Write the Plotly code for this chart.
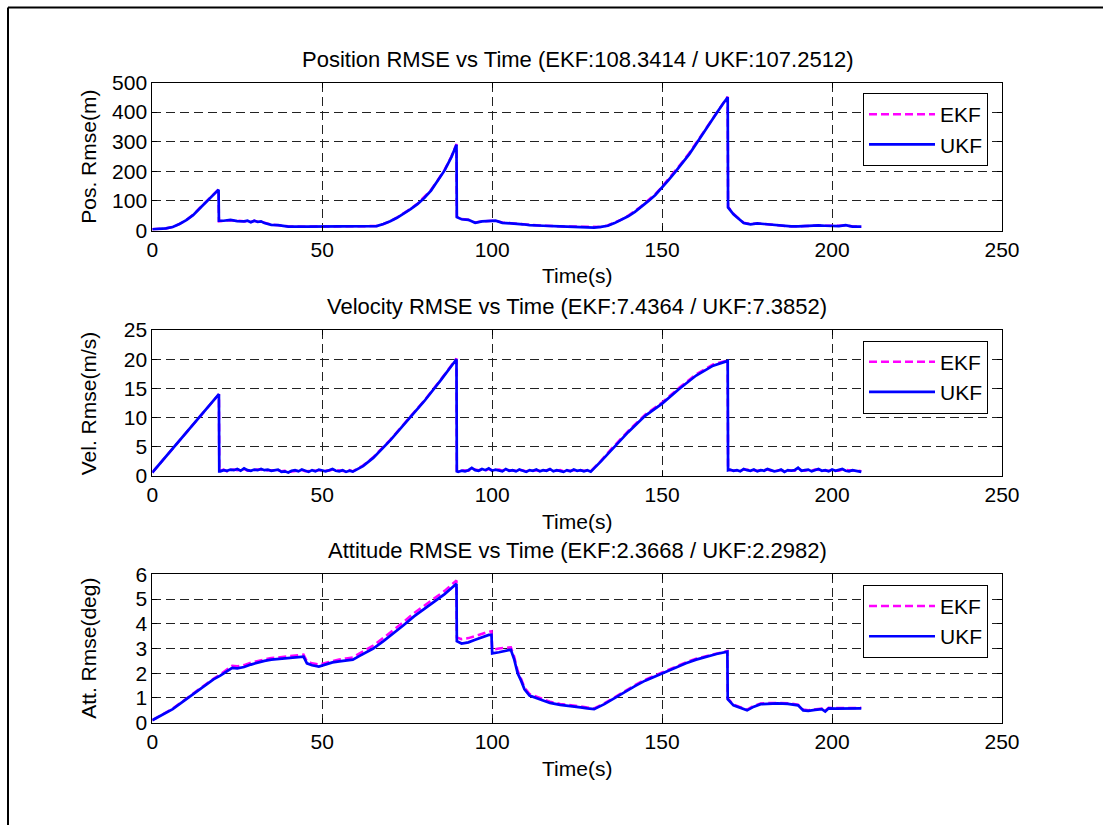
import plotly.graph_objects as go

# ---------------- data ----------------
T_POS = [0, 2, 4, 6, 8, 10, 12, 14, 16, 18, 19.5, 19.6, 21, 23, 25, 27, 28, 29, 30, 31,
         32, 33, 35, 37, 40, 45, 50, 55, 60, 65, 66, 68, 70, 72, 74, 76, 78, 80, 82, 84,
         86, 88, 89.5, 89.6, 91, 93, 95, 97, 99, 101, 103, 105, 107, 109, 111, 113, 115, 120, 125, 128,
         130, 132, 134, 136, 138, 140, 142, 144, 146, 148, 150, 152, 154, 156, 158, 160, 162, 164, 166, 168,
         169.3, 169.4, 170, 171, 172, 173, 174, 176, 178, 180, 182, 184, 186, 188, 190, 192, 194, 196, 198, 200,
         202, 204, 206, 208.6]
UKF_POS = [4, 5, 7, 12, 22, 35, 52, 75, 98, 120, 138, 33, 33, 36, 32, 31, 33, 28, 33, 29,
           31, 25, 19, 18, 13, 13, 13, 13, 13, 13, 15, 22, 31, 43, 57, 72, 89, 110, 135, 168,
           203, 248, 290, 45, 38, 36, 26, 31, 33, 33, 26, 25, 22, 21, 18, 18, 16, 14, 13, 10,
           10, 12, 16, 25, 36, 48, 63, 80, 100, 120, 145, 172, 200, 228, 258, 292, 328, 362, 396, 430,
           450, 78, 68, 55, 45, 35, 25, 21, 24, 22, 20, 18, 14, 14, 14, 15, 18, 17, 16, 15,
           15, 18, 13, 13]
EKF_POS = [4, 5, 7, 12, 22, 35, 53, 76, 99, 121, 139, 31, 33, 35, 33, 31, 32, 29, 33, 30,
           30, 26, 20, 18, 14, 13, 13, 13, 13, 13, 15, 22, 31, 44, 58, 73, 90, 112, 137, 170,
           205, 250, 292, 48, 39, 36, 27, 31, 32, 33, 27, 25, 23, 20, 19, 18, 16, 14, 13, 11,
           10, 12, 17, 26, 37, 50, 65, 83, 103, 123, 148, 175, 204, 232, 262, 296, 331, 366, 399, 434,
           452, 80, 70, 57, 46, 36, 26, 22, 24, 22, 21, 18, 15, 14, 14, 15, 17, 17, 16, 15,
           16, 17, 14, 13]

T_VEL = [0, 5, 10, 15, 19.6, 19.7,
         20, 21, 22, 23, 24, 25, 26, 27, 28, 29, 30, 31, 32, 33, 34, 35, 36, 37, 38, 39,
         40, 41, 42, 43, 44, 45, 46, 47, 48, 49, 50, 51, 52, 53, 54, 55, 56, 57, 58, 59,
         62, 65, 70, 75, 80, 85, 89.5, 89.6,
         90, 91, 92, 93, 94, 95, 96, 97, 98, 99, 100, 101, 102, 103, 104, 105, 106, 107, 108, 109,
         110, 111, 112, 113, 114, 115, 116, 117, 118, 119, 120, 121, 122, 123, 124, 125, 126, 127, 128, 129,
         132, 135, 140, 145, 150, 155, 160, 165, 169.3, 169.4,
         170, 171, 172, 173, 174, 175, 176, 177, 178, 179, 180, 181, 182, 183, 184, 185, 186, 187, 188, 189,
         190, 191, 192, 193, 194, 195, 196, 197, 198, 199, 200, 201, 202, 203, 204, 205, 206, 207, 208, 208.6]
UKF_VEL = [0.6, 4.0, 7.4, 10.8, 14.0, 0.8,
           0.8, 1.0, 0.9, 1.1, 1.0, 1.2, 0.9, 1.3, 1.0, 0.9, 1.1, 1.0, 1.2, 1.0, 1.1, 0.9, 1.0, 1.1, 0.7, 0.8,
           0.6, 0.9, 1.0, 0.8, 1.1, 0.9, 0.7, 1.0, 0.8, 1.1, 0.9, 0.8, 1.0, 1.2, 0.9, 0.8, 1.0, 0.7, 0.9, 0.75,
           1.7, 3.1, 6.1, 9.4, 12.8, 16.5, 20.0, 0.8,
           0.7, 0.9, 0.8, 1.0, 1.4, 1.0, 0.9, 1.2, 1.0, 1.3, 0.9, 1.1, 1.0, 0.8, 1.2, 0.9, 1.0, 0.8, 1.1, 0.9,
           0.7, 1.0, 0.9, 1.1, 0.8, 1.0, 0.9, 1.2, 0.8, 1.0, 0.9, 0.7, 1.0, 0.8, 1.1, 0.9, 1.0, 0.8, 1.0, 0.75,
           2.5, 4.4, 7.5, 10.3, 12.4, 14.9, 17.2, 18.9, 19.7, 1.0,
           1.1, 0.9, 1.0, 0.8, 1.2, 1.0, 0.9, 1.1, 0.8, 1.0, 0.9, 1.2, 1.0, 0.8, 0.9, 1.1, 0.7, 1.0, 0.9, 1.0,
           1.4, 0.9, 1.0, 1.1, 0.8, 1.0, 1.2, 0.9, 1.0, 0.8, 1.1, 0.9, 1.0, 1.2, 0.9, 0.8, 1.0, 0.9, 0.8, 0.7]
EKF_VEL = [0.6, 4.0, 7.5, 10.9, 14.0, 0.9,
           0.9, 1.1, 0.8, 1.0, 1.1, 1.0, 1.1, 1.2, 0.9, 1.0, 1.0, 1.1, 1.1, 0.9, 1.0, 1.0, 1.1, 1.0, 0.8, 0.9,
           0.7, 0.8, 0.9, 0.9, 1.0, 0.8, 0.8, 0.9, 0.9, 1.0, 1.0, 0.9, 0.9, 1.1, 1.0, 0.9, 0.9, 0.8, 1.0, 0.8,
           1.8, 3.2, 6.2, 9.5, 12.9, 16.6, 20.1, 0.9,
           0.8, 1.0, 0.9, 0.9, 1.2, 1.1, 1.0, 1.1, 0.9, 1.2, 1.0, 1.0, 1.1, 0.9, 1.1, 1.0, 0.9, 0.9, 1.0, 1.0,
           0.8, 0.9, 1.0, 1.0, 0.9, 0.9, 1.0, 1.1, 0.9, 0.9, 1.0, 0.8, 0.9, 0.9, 1.0, 1.0, 0.9, 0.9, 0.9, 0.8,
           2.6, 4.6, 7.7, 10.5, 12.6, 15.1, 17.4, 19.1, 19.8, 1.1,
           1.0, 1.0, 0.9, 0.9, 1.1, 1.1, 1.0, 1.0, 0.9, 0.9, 1.0, 1.1, 0.9, 0.9, 1.0, 1.0, 0.8, 0.9, 1.0, 0.9,
           1.2, 1.0, 0.9, 1.0, 0.9, 1.1, 1.1, 1.0, 0.9, 0.9, 1.0, 1.0, 0.9, 1.1, 1.0, 0.9, 0.9, 1.0, 0.9, 0.8]

T_ATT = [0, 3, 6, 9, 12, 15, 18, 20, 22, 23.5, 25, 27, 29, 31, 33, 35, 37, 39, 41, 43,
         44.5, 45.5, 47, 49, 51, 53, 55, 57, 59, 61, 63, 65, 68, 71, 74, 77, 80, 83, 86, 89.5,
         89.6, 91, 93, 95, 97, 99, 99.8, 100, 102, 104, 105.5, 106.5, 107.5, 108.5, 109.5, 111, 113, 115, 117, 120,
         123, 126, 128, 130, 133, 136, 139, 142, 145, 148, 151, 154, 157, 160, 163, 166, 169.2, 169.3, 171, 173,
         175, 177, 179, 181, 184, 187, 190, 191.5, 193, 195, 197, 198, 199, 201, 204, 206, 208.6]
UKF_ATT = [0.1, 0.32, 0.55, 0.85, 1.15, 1.47, 1.75, 1.9, 2.08, 2.22, 2.2, 2.25, 2.35, 2.43, 2.5, 2.55, 2.57, 2.6, 2.62, 2.65,
           2.67, 2.4, 2.32, 2.27, 2.35, 2.44, 2.48, 2.52, 2.55, 2.7, 2.85, 3.0, 3.3, 3.62, 3.95, 4.3, 4.6, 4.9, 5.2, 5.62,
           3.3, 3.2, 3.25, 3.35, 3.45, 3.55, 3.55, 2.8, 2.85, 2.9, 2.95, 2.55, 2.0, 1.7, 1.35, 1.1, 1.0, 0.9, 0.8, 0.72,
           0.68, 0.62, 0.58, 0.55, 0.75, 1.0, 1.25, 1.48, 1.7, 1.88, 2.05, 2.25, 2.4, 2.55, 2.67, 2.78, 2.87, 0.95, 0.7, 0.6,
           0.5, 0.65, 0.75, 0.76, 0.78, 0.76, 0.7, 0.5, 0.48, 0.52, 0.55, 0.45, 0.58, 0.57, 0.58, 0.58, 0.58]
EKF_ATT = [0.1, 0.33, 0.57, 0.87, 1.18, 1.5, 1.78, 1.95, 2.15, 2.3, 2.28, 2.33, 2.43, 2.5, 2.57, 2.62, 2.64, 2.67, 2.69, 2.72,
           2.75, 2.48, 2.4, 2.35, 2.42, 2.52, 2.56, 2.6, 2.64, 2.8, 2.96, 3.12, 3.43, 3.75, 4.08, 4.43, 4.73, 5.03, 5.33, 5.75,
           3.45, 3.38, 3.42, 3.5, 3.6, 3.68, 3.7, 2.95, 3.0, 3.02, 3.05, 2.65, 2.1, 1.78, 1.42, 1.16, 1.05, 0.95, 0.85, 0.76,
           0.72, 0.66, 0.62, 0.58, 0.78, 1.03, 1.28, 1.52, 1.74, 1.92, 2.09, 2.29, 2.44, 2.59, 2.7, 2.81, 2.9, 0.98, 0.73, 0.63,
           0.53, 0.68, 0.78, 0.8, 0.81, 0.79, 0.73, 0.53, 0.5, 0.55, 0.57, 0.48, 0.6, 0.59, 0.6, 0.6, 0.6]

for a, b, c in [(T_POS, UKF_POS, EKF_POS), (T_VEL, UKF_VEL, EKF_VEL), (T_ATT, UKF_ATT, EKF_ATT)]:
    assert len(a) == len(b) == len(c), (len(a), len(b), len(c))

TITLES = ["Position RMSE vs Time (EKF:108.3414 / UKF:107.2512)",
          "Velocity RMSE vs Time (EKF:7.4364 / UKF:7.3852)",
          "Attitude RMSE vs Time (EKF:2.3668 / UKF:2.2982)"]
YLABELS = ["Pos. Rmse(m)", "Vel. Rmse(m/s)", "Att. Rmse(deg)"]
YRANGES = [(0, 500, 100), (0, 25, 5), (0, 6, 1)]
XLABEL = "Time(s)"
SERIES_NAMES = ["EKF", "UKF"]

# ---------------- layout geometry (pixels) ----------------
W, H = 1103, 825
FONT = "Liberation Sans, Arial, Helvetica, sans-serif"
X0, X1 = 152.3, 1002.0
PANELS = [(82.5, 230.5), (330.0, 476.0), (574.3, 722.7)]   # top, bottom in px

def px_x(p):
    return p / W

def px_y(p):
    return 1 - p / H

fig = go.Figure()
data_sets = [(T_POS, EKF_POS, UKF_POS), (T_VEL, EKF_VEL, UKF_VEL), (T_ATT, EKF_ATT, UKF_ATT)]
legend_ids = ["legend", "legend2", "legend3"]

for i, (t, ekf, ukf) in enumerate(data_sets):
    sfx = "" if i == 0 else str(i + 1)
    fig.add_trace(go.Scatter(x=t, y=ekf, mode="lines", name=SERIES_NAMES[0],
                             line=dict(color="#FF00FF", width=2.5, dash="8px,4px"),
                             xaxis="x" + sfx, yaxis="y" + sfx, legend=legend_ids[i]))
    fig.add_trace(go.Scatter(x=t, y=ukf, mode="lines", name=SERIES_NAMES[1],
                             line=dict(color="#0000FF", width=2.7),
                             xaxis="x" + sfx, yaxis="y" + sfx, legend=legend_ids[i]))

layout = dict(
    width=W, height=H, autosize=False,
    margin=dict(l=0, r=0, t=0, b=0, pad=0, autoexpand=False),
    paper_bgcolor="white", plot_bgcolor="white",
    font=dict(family=FONT, size=21, color="black"),
    annotations=[], shapes=[],
)

axis_common = dict(showline=True, linecolor="black", linewidth=1, mirror="allticks",
                   ticks="inside", ticklen=5, tickcolor="black", tickwidth=1,
                   showgrid=True, gridcolor="#222222", gridwidth=1, griddash="9px,5px",
                   zeroline=False, automargin=False,
                   tickfont=dict(family=FONT, size=21, color="black"))

for i, (top, bot) in enumerate(PANELS):
    sfx = "" if i == 0 else str(i + 1)
    ydom = [px_y(bot), px_y(top)]
    layout["xaxis" + sfx] = dict(axis_common, domain=[px_x(X0), px_x(X1)], range=[0, 250],
                                 tick0=0, dtick=50, anchor="y" + sfx)
    lo, hi, dt = YRANGES[i]
    layout["yaxis" + sfx] = dict(axis_common, domain=ydom, range=[lo, hi], tick0=0, dtick=dt,
                                 anchor="x" + sfx)
    cx = px_x((X0 + X1) / 2)
    layout["annotations"].append(dict(text=TITLES[i], xref="paper", yref="paper", x=cx,
                                      y=px_y(top - 23.5), xanchor="center", yanchor="middle",
                                      showarrow=False, font=dict(size=22)))
    layout["annotations"].append(dict(text=XLABEL, xref="paper", yref="paper", x=cx,
                                      y=px_y(bot + 45.5), xanchor="center", yanchor="middle",
                                      showarrow=False, font=dict(size=21)))
    layout["annotations"].append(dict(text=YLABELS[i], xref="paper", yref="paper", x=px_x(88.3),
                                      y=px_y((top + bot) / 2), xanchor="center", yanchor="middle",
                                      textangle=-90, showarrow=False, font=dict(size=21)))
    layout[legend_ids[i]] = dict(x=px_x(863), y=px_y(top + 10.5), xanchor="left", yanchor="top",
                                 bgcolor="white", bordercolor="black", borderwidth=1,
                                 font=dict(family=FONT, size=21, color="black"),
                                 itemwidth=66, tracegroupgap=0)

# outer frame (figure border of original export)
layout["shapes"].append(dict(type="line", xref="paper", yref="paper",
                             x0=px_x(8), x1=px_x(8), y0=0, y1=px_y(7.5),
                             line=dict(color="black", width=2)))
layout["shapes"].append(dict(type="line", xref="paper", yref="paper",
                             x0=px_x(8), x1=1, y0=px_y(7.5), y1=px_y(7.5),
                             line=dict(color="black", width=2)))

fig.update_layout(**layout)
fig.write_html("out.html")
